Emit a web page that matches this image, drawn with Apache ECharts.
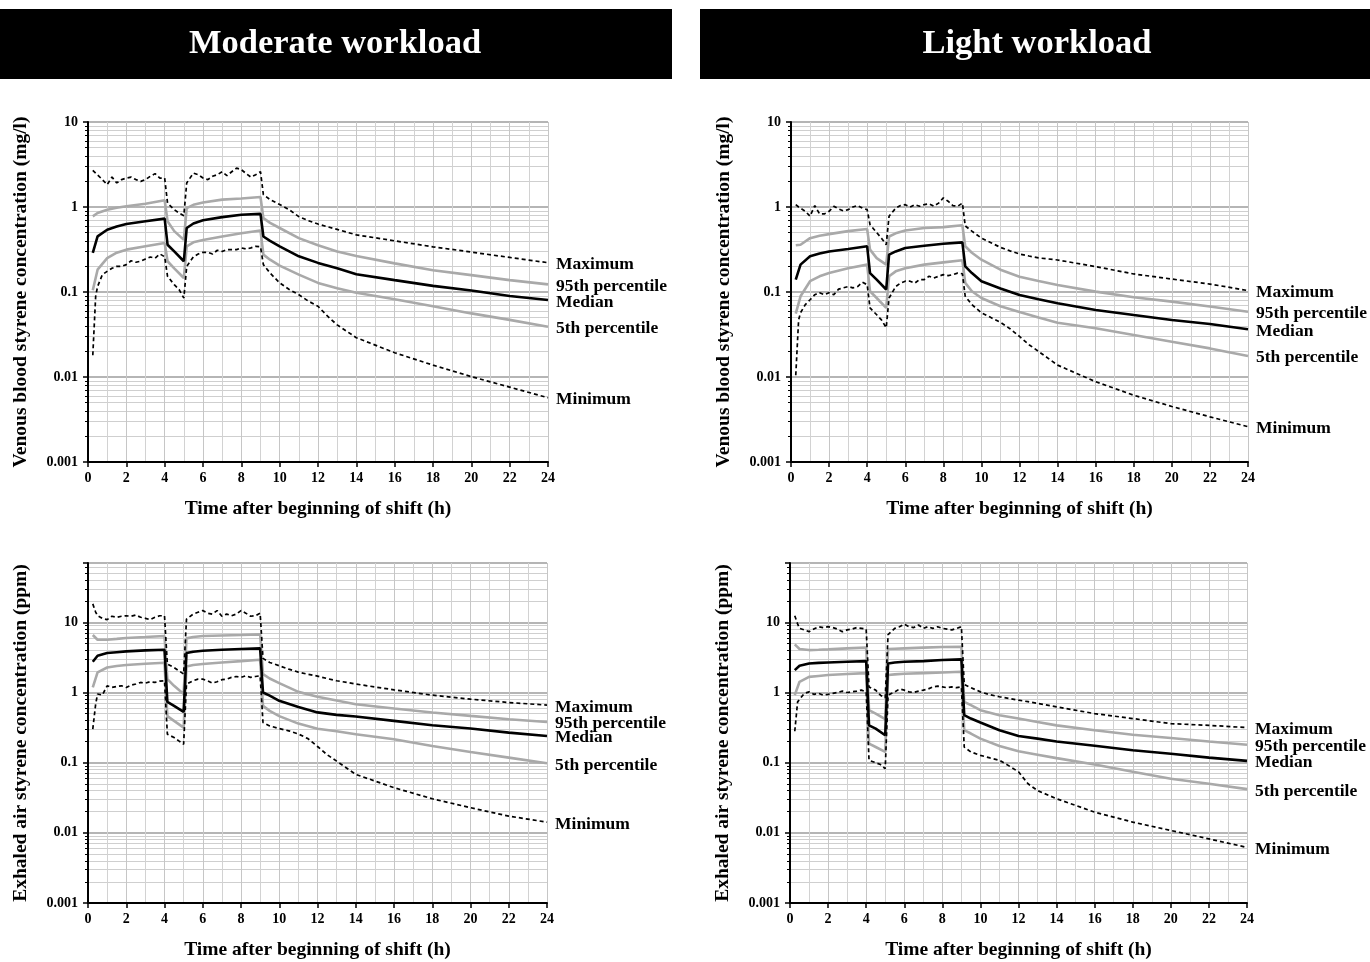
<!DOCTYPE html>
<html><head><meta charset="utf-8">
<script src="https://cdn.jsdelivr.net/npm/echarts@6/dist/echarts.min.js"></script>
<style>html,body{margin:0;padding:0;background:#fff}#c{width:1370px;height:962px}</style>
</head><body><div id="c"></div><script>
// time points (h)
const tJag = [0.25,0.4,0.5,0.75,1,1.25,1.5,1.75,2,2.25,2.5,2.75,3,3.25,3.5,3.75,4,
  4.15,4.5,4.75,5,
  5.15,5.5,5.75,6,6.25,6.5,6.75,7,7.25,7.5,7.75,8,8.25,8.5,8.75,9,
  9.15,9.5,10,10.5,11,11.5,12,12.5,13,14,16,18,20,22,24];
const tPct = [0.25,0.5,1,1.5,2,3,4,4.15,4.5,5,5.15,5.5,6,7,8,9,9.15,9.5,10,11,12,13,14,16,18,20,22,24];

// Moderate workload - venous blood (mg/l)
const maxA = [2.7,2.5,2.4,2.1,1.83,2.25,1.92,2.1,2.19,2.25,2.1,2.0,2.1,2.3,2.47,2.19,2.19,
  1.11,0.93,0.85,0.79,
  1.92,2.5,2.4,2.19,2.1,2.3,2.4,2.6,2.34,2.6,2.87,2.75,2.47,2.25,2.4,2.6,
  1.4,1.22,1.07,0.93,0.77,0.69,0.63,0.585,0.545,0.47,0.40,0.34,0.295,0.255,0.221];
const minA = [0.018,0.089,0.116,0.16,0.175,0.19,0.2,0.2,0.21,0.233,0.224,0.23,0.245,0.258,0.25,0.28,0.26,
  0.153,0.122,0.107,0.085,
  0.2,0.26,0.28,0.293,0.293,0.28,0.31,0.30,0.315,0.315,0.315,0.33,0.32,0.33,0.345,0.34,
  0.21,0.167,0.128,0.107,0.093,0.078,0.068,0.052,0.041,0.029,0.0193,0.0138,0.0101,0.0076,0.0057];
const medA = [0.288,0.452,0.54,0.59,0.63,0.68,0.73,0.36,0.30,0.23,0.566,0.64,0.70,0.76,0.81,0.83,0.45,0.40,0.344,0.263,0.22,0.19,0.162,0.138,0.118,0.104,0.0898,0.0805];
const p95A = [0.777,0.85,0.93,0.98,1.02,1.09,1.2,0.68,0.52,0.41,0.97,1.06,1.13,1.22,1.26,1.31,0.74,0.65,0.566,0.43,0.354,0.30,0.265,0.217,0.18,0.158,0.138,0.123];
const p5A = [0.105,0.183,0.25,0.29,0.315,0.345,0.377,0.23,0.19,0.146,0.345,0.384,0.41,0.45,0.49,0.53,0.275,0.24,0.204,0.16,0.128,0.111,0.098,0.082,0.068,0.056,0.047,0.039];

// Light workload - venous blood (mg/l)
const maxB = [1.065,1.0,0.97,0.89,0.78,1.04,0.83,0.83,0.89,1.02,0.95,0.9,0.93,1.0,1.04,0.97,0.93,
  0.62,0.50,0.43,0.36,
  0.78,0.97,1.04,1.065,1.0,1.065,1.02,1.065,1.09,1.02,1.11,1.28,1.17,1.04,1.02,1.11,
  0.60,0.52,0.43,0.38,0.335,0.305,0.28,0.265,0.252,0.238,0.199,0.163,0.142,0.124,0.104];
const minB = [0.0105,0.047,0.057,0.071,0.081,0.093,0.098,0.093,0.098,0.093,0.108,0.112,0.116,0.112,0.116,0.13,0.122,
  0.065,0.054,0.047,0.038,
  0.085,0.116,0.127,0.134,0.134,0.127,0.14,0.14,0.153,0.146,0.153,0.16,0.156,0.16,0.167,0.164,
  0.089,0.071,0.057,0.05,0.044,0.037,0.03,0.024,0.02,0.0138,0.0088,0.0061,0.0045,0.0034,0.0026];
const medB = [0.14,0.21,0.263,0.283,0.30,0.32,0.345,0.167,0.14,0.107,0.275,0.30,0.33,0.35,0.37,0.384,0.2,0.167,0.134,0.11,0.092,0.082,0.0736,0.0614,0.0536,0.0469,0.042,0.0364];
const p95B = [0.354,0.36,0.43,0.46,0.48,0.52,0.55,0.315,0.25,0.21,0.45,0.49,0.53,0.566,0.58,0.61,0.345,0.29,0.24,0.183,0.151,0.135,0.121,0.101,0.0868,0.077,0.0674,0.0587];
const p5B = [0.0556,0.089,0.134,0.153,0.167,0.19,0.21,0.102,0.085,0.065,0.153,0.175,0.19,0.21,0.223,0.236,0.128,0.102,0.085,0.068,0.058,0.05,0.0435,0.0374,0.0312,0.026,0.0217,0.0177];

// Moderate workload - exhaled air (ppm)
const maxC = [18.3,14,12.4,11.4,10.9,12.2,11.8,12.2,12.4,12.2,12.7,11.8,11.4,10.9,11.8,12.4,12.4,
  2.54,2.27,2.04,1.83,
  11.1,13.1,13.9,14.7,13.5,13.1,14.7,12.2,13.1,12.4,13.1,14.7,13.5,12.2,12.4,13.5,
  3.06,2.68,2.40,2.15,1.95,1.82,1.71,1.58,1.47,1.32,1.09,0.916,0.803,0.72,0.66];
const minC = [0.30,0.68,0.95,0.92,1.245,1.18,1.22,1.245,1.18,1.27,1.32,1.39,1.36,1.42,1.39,1.45,1.47,
  0.254,0.228,0.204,0.183,
  1.32,1.47,1.55,1.55,1.47,1.36,1.42,1.52,1.55,1.64,1.69,1.64,1.73,1.64,1.69,1.73,
  0.373,0.334,0.306,0.284,0.256,0.22,0.17,0.13,0.105,0.068,0.044,0.0306,0.0228,0.0173,0.0142];
const medC = [2.74,3.34,3.65,3.75,3.85,3.98,4.07,0.736,0.645,0.53,3.65,3.8,3.94,4.07,4.16,4.25,1.0,0.9,0.76,0.62,0.52,0.48,0.454,0.394,0.342,0.306,0.268,0.24];
const p95C = [6.59,5.65,5.65,5.8,5.98,6.17,6.38,1.55,1.245,0.95,5.9,6.17,6.38,6.5,6.59,6.73,1.83,1.58,1.36,1.02,0.87,0.77,0.68,0.59,0.518,0.464,0.416,0.38];
const p5C = [1.18,1.93,2.27,2.38,2.46,2.57,2.65,0.46,0.394,0.316,2.35,2.46,2.54,2.68,2.80,2.93,0.645,0.547,0.46,0.36,0.305,0.28,0.254,0.216,0.173,0.142,0.118,0.098];

// Light workload - exhaled air (ppm)
const maxD = [12.4,9.5,8.2,7.8,7.36,8.0,8.66,8.4,8.66,8.4,8.0,7.36,7.8,8.0,8.4,8.2,8.0,
  1.2,1.08,0.916,0.84,
  6.7,8.2,8.66,9.38,8.66,8.4,9.16,8.2,8.66,8.2,8.66,8.2,8.0,7.8,8.2,8.66,
  1.3,1.17,1.02,0.93,0.87,0.82,0.777,0.74,0.70,0.624,0.50,0.425,0.36,0.34,0.316];
const minD = [0.28,0.735,0.78,0.97,1.02,0.94,0.97,0.916,0.94,0.97,1.0,1.045,1.0,1.02,1.045,1.08,1.02,
  0.108,0.1,0.094,0.082,
  0.916,1.02,1.12,1.08,1.02,1.0,1.045,1.08,1.12,1.2,1.23,1.2,1.17,1.2,1.17,1.2,
  0.167,0.142,0.127,0.117,0.108,0.09,0.074,0.05,0.04,0.0306,0.0197,0.0142,0.0108,0.0082,0.0062];
const medD = [2.08,2.4,2.59,2.64,2.68,2.74,2.8,0.34,0.306,0.246,2.59,2.67,2.74,2.8,2.9,2.96,0.475,0.425,0.373,0.29,0.24,0.22,0.20,0.174,0.15,0.134,0.118,0.106];
const p95D = [4.84,4.16,4.02,4.06,4.11,4.25,4.35,0.56,0.50,0.416,4.16,4.2,4.25,4.35,4.44,4.49,0.736,0.66,0.56,0.474,0.425,0.38,0.34,0.29,0.25,0.225,0.20,0.18];
const p5D = [0.916,1.42,1.67,1.72,1.77,1.83,1.89,0.187,0.167,0.142,1.77,1.81,1.85,1.89,1.93,1.97,0.29,0.26,0.22,0.173,0.145,0.13,0.116,0.094,0.074,0.059,0.05,0.042];

const titles = ['Moderate workload', 'Light workload'];
const yNames = ['Venous blood styrene concentration (mg/l)', 'Exhaled air styrene concentration (ppm)'];
const xName = 'Time after beginning of shift (h)';
const seriesNames = ['Maximum', '95th percentile', 'Median', '5th percentile', 'Minimum'];

const FONT = '"Liberation Serif", "Times New Roman", serif';

const panels = [
  {grid:{left:88, top:122, width:460, height:340}, ymax:10, yname:yNames[0], max:maxA, p95:p95A, med:medA, p5:p5A, min:minA},
  {grid:{left:791, top:122, width:457, height:340}, ymax:10, yname:yNames[0], max:maxB, p95:p95B, med:medB, p5:p5B, min:minB},
  {grid:{left:88, top:563, width:459, height:340}, ymax:70, yname:yNames[1], max:maxC, p95:p95C, med:medC, p5:p5C, min:minC},
  {grid:{left:790, top:563, width:457, height:340}, ymax:70, yname:yNames[1], max:maxD, p95:p95D, med:medD, p5:p5D, min:minD}
];

function powLabel(v) {
  const l = Math.log10(v);
  const k = Math.round(l);
  if (Math.abs(l - k) > 1e-6) return '';
  return k < 0 ? Math.pow(10, k).toFixed(-k) : String(Math.round(Math.pow(10, k)));
}

const grids = [], xAxes = [], yAxes = [], series = [];
const boldText = {fontFamily: FONT, fontWeight: 'bold', color: '#000'};

panels.forEach((p, i) => {
  grids.push(p.grid);
  xAxes.push({
    type: 'value', gridIndex: i, min: 0, max: 24, interval: 2,
    name: xName, nameLocation: 'middle', nameGap: 37,
    nameTextStyle: Object.assign({fontSize: 19.5}, boldText),
    axisLine: {onZero: false, lineStyle: {color: '#000', width: 2}},
    axisTick: {show: true, length: 5, lineStyle: {color: '#000', width: 1.5}},
    minorTick: {show: false, splitNumber: 2},
    splitLine: {show: true, lineStyle: {color: '#c6c6c6', width: 1}},
    minorSplitLine: {show: true, lineStyle: {color: '#d2d2d2', width: 1}},
    axisLabel: Object.assign({fontSize: 14, margin: 9}, boldText)
  });
  yAxes.push({
    type: 'log', logBase: 10, gridIndex: i, min: 0.001, max: p.ymax,
    name: p.yname, nameLocation: 'middle', nameGap: 57, nameRotate: 90,
    nameTextStyle: Object.assign({fontSize: 19.5}, boldText),
    axisLine: {show: true, lineStyle: {color: '#000', width: 2}},
    axisTick: {show: true, length: 5, lineStyle: {color: '#000', width: 1.5}},
    minorTick: {show: true, splitNumber: 9, length: 3, lineStyle: {color: '#000', width: 1}},
    splitLine: {show: true, lineStyle: {color: '#9c9c9c', width: 1.5}},
    minorSplitLine: {show: true, lineStyle: {color: '#cfcfcf', width: 1}},
    axisLabel: Object.assign({fontSize: 14, margin: 10, formatter: powLabel}, boldText)
  });
  const defs = [
    {name: seriesNames[1], t: tPct, v: p.p95, style: {color: '#a9a9a9', width: 2.6}},
    {name: seriesNames[3], t: tPct, v: p.p5, style: {color: '#a9a9a9', width: 2.6}},
    {name: seriesNames[2], t: tPct, v: p.med, style: {color: '#000', width: 2.6}},
    {name: seriesNames[0], t: tJag, v: p.max, style: {color: '#000', width: 1.7, type: [4, 3]}},
    {name: seriesNames[4], t: tJag, v: p.min, style: {color: '#000', width: 1.7, type: [4, 3]}}
  ];
  defs.forEach(d => {
    series.push({
      type: 'line', name: d.name, xAxisIndex: i, yAxisIndex: i,
      data: d.t.map((t, k) => [t, d.v[k]]),
      showSymbol: false, symbol: 'none', clip: true,
      lineStyle: d.style, itemStyle: {color: d.style.color},
      emphasis: {disabled: true},
      endLabel: Object.assign({show: true, formatter: d.name, fontSize: 17.5, distance: 8, offset: [0, 2]}, boldText)
    });
  });
});

const chart = echarts.init(document.getElementById('c'), null, {renderer: 'canvas'});
chart.setOption({
  animation: false,
  backgroundColor: '#fff',
  graphic: [
    {type: 'rect', shape: {x: 0, y: 9, width: 672, height: 70}, style: {fill: '#000'}},
    {type: 'text', x: 335, y: 44, style: {text: titles[0], fill: '#fff', fontSize: 34.5, fontWeight: 'bold', fontFamily: FONT, align: 'center', verticalAlign: 'middle'}},
    {type: 'rect', shape: {x: 700, y: 9, width: 670, height: 70}, style: {fill: '#000'}},
    {type: 'text', x: 1037, y: 44, style: {text: titles[1], fill: '#fff', fontSize: 34.5, fontWeight: 'bold', fontFamily: FONT, align: 'center', verticalAlign: 'middle'}}
  ],
  grid: grids, xAxis: xAxes, yAxis: yAxes, series: series
});
</script></body></html>
